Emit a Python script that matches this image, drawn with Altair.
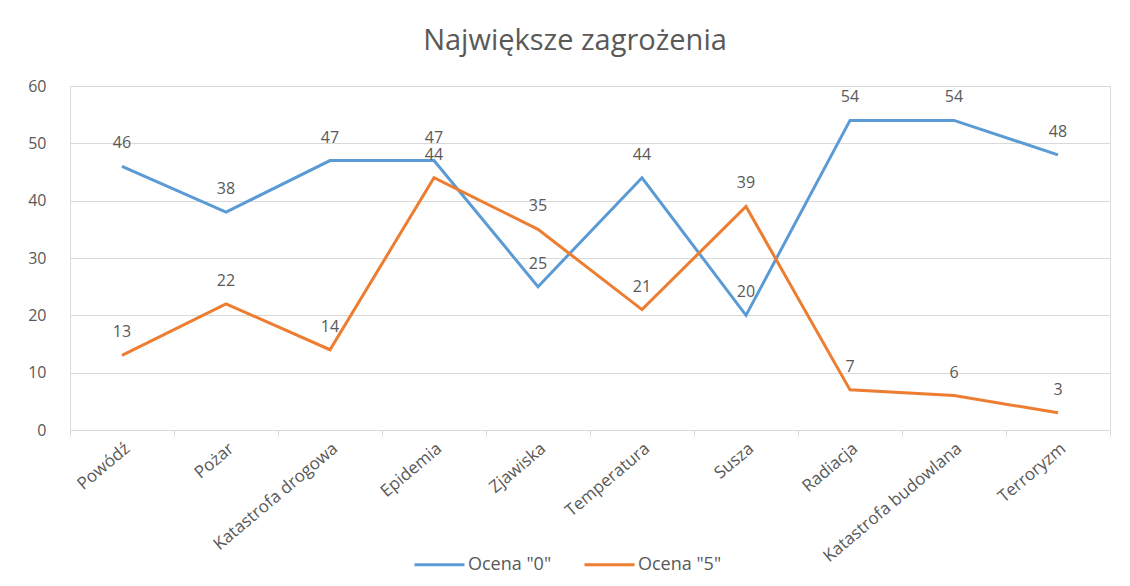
import altair as alt
import pandas as pd

categories = ["Powódź", "Pożar", "Katastrofa drogowa", "Epidemia", "Zjawiska",
              "Temperatura", "Susza", "Radiacja", "Katastrofa budowlana", "Terroryzm"]
ocena0 = [46, 38, 47, 47, 25, 44, 20, 54, 54, 48]
ocena5 = [13, 22, 14, 44, 35, 21, 39, 7, 6, 3]
series = ['Ocena "0"', 'Ocena "5"']
colors = ["#5B9BD5", "#ED7D31"]

rows = []
for i, c in enumerate(categories):
    rows.append({"kat": c, "seria": series[0], "wartosc": ocena0[i]})
    rows.append({"kat": c, "seria": series[1], "wartosc": ocena5[i]})
df = pd.DataFrame(rows)

FONT = "Open Sans"
GRAY = "#595959"

x_enc = alt.X("kat:N", sort=categories, bandPosition=0.5,
              scale=alt.Scale(type="band", paddingInner=0, paddingOuter=0),
              axis=alt.Axis(title=None, labelAngle=-40, labelAlign="right", labelBaseline="top",
                            labelFontSize=17, labelColor=GRAY, labelFont=FONT, labelPadding=4,
                            tickBand="extent", ticks=True, tickSize=6, tickColor="#d9d9d9",
                            domainColor="#d9d9d9", grid=False, labelOverlap=False))
y_enc = alt.Y("wartosc:Q", scale=alt.Scale(domain=[0, 60]),
              axis=alt.Axis(title=None, values=[0, 10, 20, 30, 40, 50, 60], labelFontSize=16,
                            labelColor=GRAY, labelFont=FONT, labelPadding=24, ticks=False,
                            domain=False, gridColor="#d9d9d9"))
color_enc = alt.Color("seria:N", scale=alt.Scale(domain=series, range=colors),
                      legend=alt.Legend(title=None, orient="none", direction="horizontal",
                                        legendX=343, legendY=452, symbolType="stroke",
                                        symbolSize=2500, symbolStrokeWidth=3,
                                        labelFontSize=18, labelColor=GRAY, labelFont=FONT,
                                        columnPadding=26, labelOffset=2))

base = alt.Chart(df)
lines = base.mark_line(strokeWidth=3).encode(x=x_enc, y=y_enc, color=color_enc)
labels = base.mark_text(dy=-23, fontSize=16, font=FONT, color=GRAY).encode(
    x=x_enc, y=y_enc, text="wartosc:Q", detail="seria:N")

chart = alt.layer(lines, labels).properties(
    width=1040, height=344,
    title=alt.Title("Największe zagrożenia", fontSize=29, font=FONT, fontWeight="normal",
                    color=GRAY, anchor="middle", offset=22, dx=-15),
    autosize=alt.AutoSizeParams(type="none"),
    padding={"left": 62, "top": 78, "right": 10, "bottom": 150},
).configure_view(stroke=None).configure(background="white")

chart.save("out.html", embed_options={"renderer": "svg", "actions": False})
